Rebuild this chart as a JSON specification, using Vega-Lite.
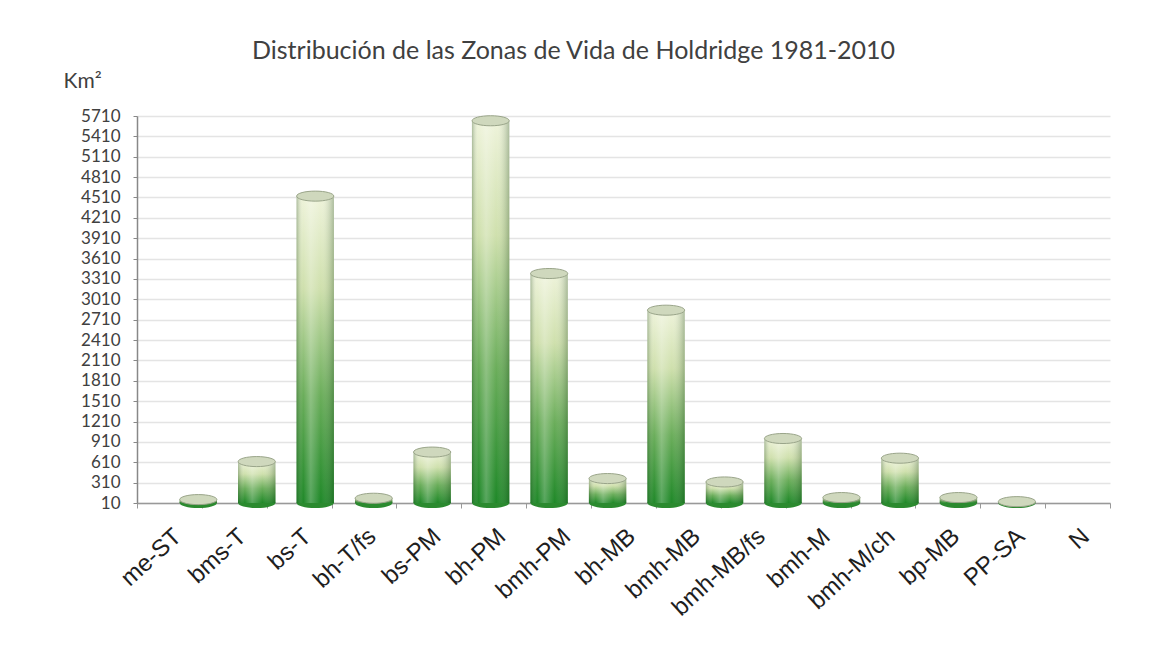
{
  "$schema": "https://vega.github.io/schema/vega-lite/v6.json",
  "width": 973,
  "height": 387,
  "autosize": {"type": "none"},
  "padding": {"left": 137, "top": 116, "right": 60, "bottom": 147},
  "background": "#ffffff",
  "config": {
    "view": {"stroke": null},
    "axisY": {"labelOverlap": false, "format": "d"}
  },
  "title": {
    "text": "Distribución de las Zonas de Vida de Holdridge 1981-2010",
    "font": "Lato",
    "fontSize": 25,
    "fontWeight": "normal",
    "color": "#404040",
    "anchor": "middle",
    "frame": "group",
    "baseline": "alphabetic",
    "offset": 0,
    "dy": 14,
    "dx": -50
  },
  "data": {
    "values": [
      {"zona": "me-ST", "km2": 60},
      {"zona": "bms-T", "km2": 620},
      {"zona": "bs-T", "km2": 4530},
      {"zona": "bh-T/fs", "km2": 80},
      {"zona": "bs-PM", "km2": 760},
      {"zona": "bh-PM", "km2": 5640},
      {"zona": "bmh-PM", "km2": 3390},
      {"zona": "bh-MB", "km2": 370},
      {"zona": "bmh-MB", "km2": 2850},
      {"zona": "bmh-MB/fs", "km2": 320},
      {"zona": "bmh-M", "km2": 960},
      {"zona": "bmh-M/ch", "km2": 90},
      {"zona": "bp-MB", "km2": 670},
      {"zona": "PP-SA", "km2": 90},
      {"zona": "N", "km2": 30}
    ]
  },
  "layer": [
    {
      "encoding": {
        "x": {
          "field": "zona",
          "type": "nominal",
          "sort": null,
          "scale": {"type": "band", "paddingInner": 0.36, "paddingOuter": 1.097, "align": 0.364},
          "axis": null
        }
      },
      "layer": [
        {
          "mark": {"type": "point", "shape": "M-1,0A1,0.27,0,1,1,1,0A1,0.27,0,1,1,-1,0Z", "size": 1384, "filled": true, "color": "#2b8a2f", "opacity": 1},
          "encoding": {
            "y": {
              "datum": 10,
              "type": "quantitative",
              "scale": {"domain": [10, 5710], "nice": false, "zero": false},
              "axis": {
                "values": [10, 310, 610, 910, 1210, 1510, 1810, 2110, 2410, 2710, 3010, 3310, 3610, 3910, 4210, 4510, 4810, 5110, 5410, 5710],
                "format": "d",
                "title": "Km²",
                "titleAngle": 0,
                "titleAlign": "left",
                "titleBaseline": "alphabetic",
                "titleX": -74,
                "titleY": -29,
                "titleFont": "Lato",
                "titleFontSize": 21,
                "titleFontWeight": "normal",
                "titleColor": "#404040",
                "labelFont": "Lato",
                "labelFontSize": 17,
                "labelColor": "#404040",
                "labelPadding": 13,
                "labelBaseline": "middle",
                "labelDy": 1,
                "tickSize": 4,
                "tickColor": "#888888",
                "domainColor": "#888888",
                "domainWidth": 1.5,
                "grid": true,
                "gridColor": "#e4e4e4",
                "gridWidth": 1.5,
                "labelOverlap": false
              }
            }
          }
        },
        {
          "mark": {
            "type": "bar",
            "color": {
              "gradient": "linear", "x1": 0, "y1": 0, "x2": 0, "y2": 1,
              "stops": [
                {"offset": 0, "color": "#eef3da"},
                {"offset": 0.3, "color": "#cfe0ad"},
                {"offset": 0.65, "color": "#6aad5a"},
                {"offset": 1, "color": "#1f8828"}
              ]
            }
          },
          "encoding": {
            "y": {
              "field": "km2",
              "type": "quantitative",
              "scale": {"domain": [10, 5710], "nice": false, "zero": false},
              "axis": {
                "values": [10, 310, 610, 910, 1210, 1510, 1810, 2110, 2410, 2710, 3010, 3310, 3610, 3910, 4210, 4510, 4810, 5110, 5410, 5710],
                "format": "d",
                "title": "Km²",
                "titleAngle": 0,
                "titleAlign": "left",
                "titleBaseline": "alphabetic",
                "titleX": -74,
                "titleY": -29,
                "titleFont": "Lato",
                "titleFontSize": 21,
                "titleFontWeight": "normal",
                "titleColor": "#404040",
                "labelFont": "Lato",
                "labelFontSize": 17,
                "labelColor": "#404040",
                "labelPadding": 13,
                "labelBaseline": "middle",
                "labelDy": 1,
                "tickSize": 4,
                "tickColor": "#888888",
                "domainColor": "#888888",
                "domainWidth": 1.5,
                "grid": true,
                "gridColor": "#e4e4e4",
                "gridWidth": 1.5,
                "labelOverlap": false
              }
            },
            "y2": {"datum": 10}
          }
        },
        {
          "mark": {
            "type": "bar",
            "color": {
              "gradient": "linear", "x1": 0, "y1": 0, "x2": 1, "y2": 0,
              "stops": [
                {"offset": 0, "color": "rgba(20,60,20,0.30)"},
                {"offset": 0.18, "color": "rgba(255,255,255,0.0)"},
                {"offset": 0.38, "color": "rgba(255,255,255,0.25)"},
                {"offset": 0.65, "color": "rgba(255,255,255,0.0)"},
                {"offset": 1, "color": "rgba(20,60,20,0.30)"}
              ]
            }
          },
          "encoding": {
            "y": {
              "field": "km2",
              "type": "quantitative",
              "scale": {"domain": [10, 5710], "nice": false, "zero": false},
              "axis": {
                "values": [10, 310, 610, 910, 1210, 1510, 1810, 2110, 2410, 2710, 3010, 3310, 3610, 3910, 4210, 4510, 4810, 5110, 5410, 5710],
                "format": "d",
                "title": "Km²",
                "titleAngle": 0,
                "titleAlign": "left",
                "titleBaseline": "alphabetic",
                "titleX": -74,
                "titleY": -29,
                "titleFont": "Lato",
                "titleFontSize": 21,
                "titleFontWeight": "normal",
                "titleColor": "#404040",
                "labelFont": "Lato",
                "labelFontSize": 17,
                "labelColor": "#404040",
                "labelPadding": 13,
                "labelBaseline": "middle",
                "labelDy": 1,
                "tickSize": 4,
                "tickColor": "#888888",
                "domainColor": "#888888",
                "domainWidth": 1.5,
                "grid": true,
                "gridColor": "#e4e4e4",
                "gridWidth": 1.5,
                "labelOverlap": false
              }
            },
            "y2": {"datum": 10}
          }
        },
        {
          "mark": {"type": "point", "shape": "M-1,0A1,0.27,0,1,1,1,0A1,0.27,0,1,1,-1,0Z", "size": 1384, "filled": true, "color": "#cfd8bd", "stroke": "#9aa58a", "strokeWidth": 1, "opacity": 1},
          "encoding": {
            "y": {
              "field": "km2",
              "type": "quantitative",
              "scale": {"domain": [10, 5710], "nice": false, "zero": false},
              "axis": {
                "values": [10, 310, 610, 910, 1210, 1510, 1810, 2110, 2410, 2710, 3010, 3310, 3610, 3910, 4210, 4510, 4810, 5110, 5410, 5710],
                "format": "d",
                "title": "Km²",
                "titleAngle": 0,
                "titleAlign": "left",
                "titleBaseline": "alphabetic",
                "titleX": -74,
                "titleY": -29,
                "titleFont": "Lato",
                "titleFontSize": 21,
                "titleFontWeight": "normal",
                "titleColor": "#404040",
                "labelFont": "Lato",
                "labelFontSize": 17,
                "labelColor": "#404040",
                "labelPadding": 13,
                "labelBaseline": "middle",
                "labelDy": 1,
                "tickSize": 4,
                "tickColor": "#888888",
                "domainColor": "#888888",
                "domainWidth": 1.5,
                "grid": true,
                "gridColor": "#e4e4e4",
                "gridWidth": 1.5,
                "labelOverlap": false
              }
            }
          }
        }
      ]
    },
    {
      "mark": {"type": "point", "opacity": 0},
      "encoding": {
        "x": {
          "field": "zona",
          "type": "nominal",
          "sort": null,
          "scale": {"type": "band", "paddingInner": 0, "paddingOuter": 0},
          "axis": {
            "orient": "bottom",
            "title": null,
            "labelAngle": -42.5,
            "labelAlign": "right",
            "labelBaseline": "top",
            "labelFont": "Liberation Sans",
            "labelFontSize": 24,
            "labelColor": "#1e1e1e",
            "labelPadding": 16,
            "labelOverlap": false,
            "labelBound": false,
            "tickSize": 5,
            "tickColor": "#999999",
            "tickBand": "extent",
            "domainColor": "#999999",
            "domainWidth": 1.5,
            "grid": false,
            "zindex": 0
          }
        },
        "y": {
          "datum": 10,
          "type": "quantitative",
          "scale": {"domain": [10, 5710], "nice": false, "zero": false},
          "axis": {
            "values": [10, 310, 610, 910, 1210, 1510, 1810, 2110, 2410, 2710, 3010, 3310, 3610, 3910, 4210, 4510, 4810, 5110, 5410, 5710],
            "format": "d",
            "title": "Km²",
            "titleAngle": 0,
            "titleAlign": "left",
            "titleBaseline": "alphabetic",
            "titleX": -74,
            "titleY": -29,
            "titleFont": "Lato",
            "titleFontSize": 21,
            "titleFontWeight": "normal",
            "titleColor": "#404040",
            "labelFont": "Lato",
            "labelFontSize": 17,
            "labelColor": "#404040",
            "labelPadding": 13,
            "labelBaseline": "middle",
            "labelDy": 1,
            "tickSize": 4,
            "tickColor": "#888888",
            "domainColor": "#888888",
            "domainWidth": 1.5,
            "grid": true,
            "gridColor": "#e4e4e4",
            "gridWidth": 1.5,
            "labelOverlap": false
          }
        }
      }
    }
  ],
  "resolve": {"scale": {"x": "independent"}, "axis": {"x": "independent"}}
}
